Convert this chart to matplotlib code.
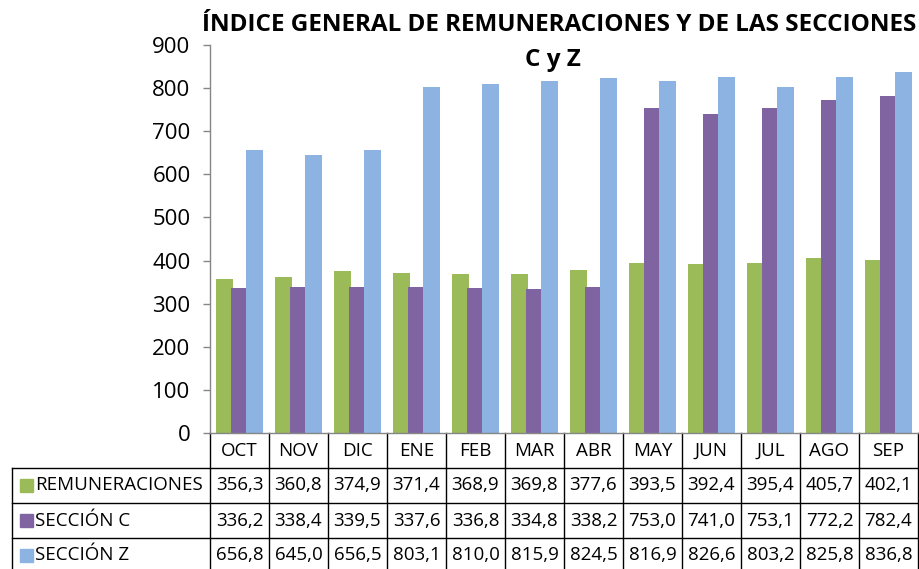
import matplotlib
matplotlib.use('Agg')
import matplotlib.pyplot as plt
import matplotlib.transforms as mtransforms
from matplotlib.patches import Rectangle
import numpy as np

# Daten
meses = ['OCT', 'NOV', 'DIC', 'ENE', 'FEB', 'MAR', 'ABR', 'MAY', 'JUN', 'JUL', 'AGO', 'SEP']
remuneraciones = [356.3, 360.8, 374.9, 371.4, 368.9, 369.8, 377.6, 393.5, 392.4, 395.4, 405.7, 402.1]
seccion_c = [336.2, 338.4, 339.5, 337.6, 336.8, 334.8, 338.2, 753.0, 741.0, 753.1, 772.2, 782.4]
seccion_z = [656.8, 645.0, 656.5, 803.1, 810.0, 815.9, 824.5, 816.9, 826.6, 803.2, 825.8, 836.8]
series = ['REMUNERACIONES', 'SECCIÓN C', 'SECCIÓN Z']
colores = ['#9BBB59', '#8064A2', '#8DB3E2']

plt.rcParams['font.family'] = ['Open Sans', 'DejaVu Sans']

W, H = 920, 569
fig = plt.figure(figsize=(W / 100, H / 100), dpi=100, facecolor='white')

# Achsen in Pixeln
x0, x1, y0, y1 = 210, 918, 433, 45
ax = fig.add_axes([x0 / W, 1 - y0 / H, (x1 - x0) / W, (y0 - y1) / H])

x = np.arange(len(meses))
ancho = 0.28
for datos, off, col in zip([remuneraciones, seccion_c, seccion_z], [-0.25, 0.0, 0.25], colores):
    ax.bar(x + off, datos, width=ancho, color=col, edgecolor='none', zorder=2)

ax.set_xlim(-0.5, len(meses) - 0.5)
ax.set_ylim(0, 900)
ax.set_yticks(range(0, 901, 100))
ax.tick_params(axis='y', labelsize=16, length=5, width=1, direction='out', pad=9,
               color='#868686')
ax.set_xticks([])
for s in ['top', 'right']:
    ax.spines[s].set_visible(False)
ax.spines['left'].set_linewidth(1)
ax.spines['left'].set_color('#868686')
ax.spines['bottom'].set_linewidth(1)
ax.spines['bottom'].set_color('#868686')

# Titel
fig.text(559 / W, 1 - 25 / H, 'ÍNDICE GENERAL DE REMUNERACIONES Y DE LAS SECCIONES',
         ha='center', va='center', fontsize=17.5, fontweight='bold')
fig.text(553 / W, 1 - 60 / H, 'C y Z', ha='center', va='center', fontsize=17.5, fontweight='bold')

# Datentabelle
blend = mtransforms.blended_transform_factory(ax.transData, fig.transFigure)
filas = [433, 468, 503, 538, 573]
fy = [1 - p / H for p in filas]
xl = 12 / W

for i in range(len(meses) + 1):
    ax.plot([i - 0.5, i - 0.5], [fy[0], 0], transform=blend, color='black', lw=1, clip_on=False)
for p in fy[1:4]:
    fig.add_artist(plt.Line2D([xl, x1 / W], [p, p], color='black', lw=1))
fig.add_artist(plt.Line2D([xl, xl], [fy[1], 0], color='black', lw=1))

yc = [(fy[k] + fy[k + 1]) / 2 for k in range(4)]
for i, m in enumerate(meses):
    ax.text(i, yc[0], m, transform=blend, ha='center', va='center', fontsize=13.5)
for k, datos in enumerate([remuneraciones, seccion_c, seccion_z]):
    for i, v in enumerate(datos):
        ax.text(i, yc[k + 1], f'{v:.1f}'.replace('.', ','), transform=blend,
                ha='center', va='center', fontsize=13.5)
    fig.add_artist(Rectangle((20 / W, yc[k + 1] - 6.5 / H), 13 / W, 13 / H,
                             transform=fig.transFigure, color=colores[k]))
    fig.text(35 / W, yc[k + 1], series[k], ha='left', va='center', fontsize=13.5)

fig.savefig('out.png', dpi=100)
